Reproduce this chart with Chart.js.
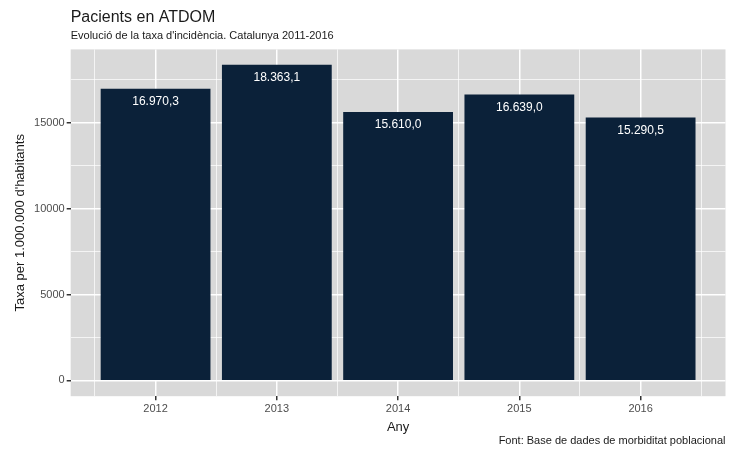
<!DOCTYPE html>
<html>
<head>
<meta charset="utf-8">
<script src="https://cdn.jsdelivr.net/npm/chart.js@4/dist/chart.umd.min.js"></script>
<style>
  html, body { margin: 0; padding: 0; background: #fff; }
  #wrap { width: 736px; height: 449px; }
</style>
</head>
<body>
<div id="wrap"><canvas id="atdomChart"></canvas></div>
<script>
// Incidence of ATDOM patients per 1,000,000 inhabitants
const years = ['2012', '2013', '2014', '2015', '2016'];
const rates = [16970.3, 18363.1, 15610.0, 16639.0, 15290.5];
const yTicks = [0, 5000, 10000, 15000];
const yMinorTicks = [2500, 7500, 12500, 17500];

const font = "'Liberation Sans', Arial, sans-serif";

function fmtCat(v) {
    // 16970.3 -> "16.970,3"
    const parts = v.toFixed(1).split('.');
    return parts[0].replace(/\B(?=(\d{3})+(?!\d))/g, '.') + ',' + parts[1];
}

const isMajorX = c => c.tick && Number.isInteger(c.tick.value);
const isMajorY = c => c.tick && yTicks.includes(c.tick.value);

// grey panel behind the plot area
const panelBg = {
    id: 'panelBg',
    beforeDraw(chart) {
        const { ctx, chartArea: a } = chart;
        ctx.save();
        ctx.fillStyle = '#d9d9d9';
        ctx.fillRect(a.left, a.top, a.right - a.left, a.bottom - a.top);
        ctx.restore();
    }
};

// value labels inside the top of each bar, plus the source caption
const barLabels = {
    id: 'barLabels',
    afterDatasetsDraw(chart) {
        const { ctx } = chart;
        ctx.save();
        ctx.fillStyle = '#ffffff';
        ctx.font = '12px ' + font;
        ctx.textAlign = 'center';
        ctx.textBaseline = 'middle';
        chart.getDatasetMeta(0).data.forEach((bar, i) => {
            ctx.fillText(fmtCat(rates[i]), bar.x, bar.y + 12.5);
        });
        ctx.fillStyle = '#1a1a1a';
        ctx.font = '11px ' + font;
        ctx.textAlign = 'right';
        ctx.fillText('Font: Base de dades de morbiditat poblacional', chart.chartArea.right, 441);
        ctx.restore();
    }
};

new Chart(document.getElementById('atdomChart').getContext('2d'), {
    type: 'bar',
    data: {
        datasets: [{
            data: rates.map((v, i) => ({ x: i + 1, y: v })),
            backgroundColor: '#0b2139',
            borderWidth: 0,
            barThickness: 'flex',
            barPercentage: 0.9,
            categoryPercentage: 1.0
        }]
    },
    options: {
        responsive: true,
        maintainAspectRatio: false,
        animation: false,
        layout: { padding: { left: 12.5, right: 10.5, top: 8, bottom: 14 } },
        scales: {
            x: {
                type: 'linear',
                offset: false,
                min: 0.3,
                max: 5.7,
                afterBuildTicks(scale) {
                    const t = [];
                    for (let v = 0.5; v <= 5.5; v += 0.5) t.push({ value: v });
                    scale.ticks = t;
                },
                ticks: {
                    autoSkip: false,
                    maxRotation: 0,
                    color: '#4d4d4d',
                    font: { family: font, size: 11 },
                    padding: 2,
                    callback: v => Number.isInteger(v) ? years[v - 1] : ''
                },
                grid: {
                    offset: false,
                    color: '#ffffff',
                    lineWidth: c => isMajorX(c) ? 1.5 : 0.7,
                    tickColor: c => isMajorX(c) ? '#333333' : 'rgba(0,0,0,0)',
                    tickLength: 4
                },
                border: { display: false },
                title: {
                    display: true,
                    text: 'Any',
                    color: '#1a1a1a',
                    font: { family: font, size: 13 },
                    padding: { top: 2, bottom: 0 }
                }
            },
            y: {
                min: -918,
                max: 19281,
                afterBuildTicks(scale) {
                    scale.ticks = yTicks.concat(yMinorTicks).sort((a, b) => a - b).map(v => ({ value: v }));
                },
                ticks: {
                    color: '#4d4d4d',
                    font: { family: font, size: 11 },
                    padding: 2,
                    callback: v => yTicks.includes(v) ? String(v) : ''
                },
                grid: {
                    color: '#ffffff',
                    lineWidth: c => isMajorY(c) ? 1.5 : 0.7,
                    tickColor: c => isMajorY(c) ? '#333333' : 'rgba(0,0,0,0)',
                    tickLength: 4
                },
                border: { display: false },
                title: {
                    display: true,
                    text: "Taxa per 1.000.000 d'habitants",
                    color: '#1a1a1a',
                    font: { family: font, size: 13 },
                    padding: { top: 0, bottom: 4 }
                }
            }
        },
        plugins: {
            legend: { display: false },
            tooltip: { enabled: false },
            title: {
                display: true,
                fullSize: false,
                align: 'start',
                text: 'Pacients en ATDOM',
                color: '#1a1a1a',
                font: { family: font, size: 16, weight: 'normal' },
                padding: { top: 0, bottom: 2 }
            },
            subtitle: {
                display: true,
                fullSize: false,
                align: 'start',
                text: "Evolució de la taxa d'incidència. Catalunya 2011-2016",
                color: '#1a1a1a',
                font: { family: font, size: 11 },
                padding: { top: 0, bottom: 7 }
            }
        }
    },
    plugins: [panelBg, barLabels]
});
</script>
</body>
</html>
